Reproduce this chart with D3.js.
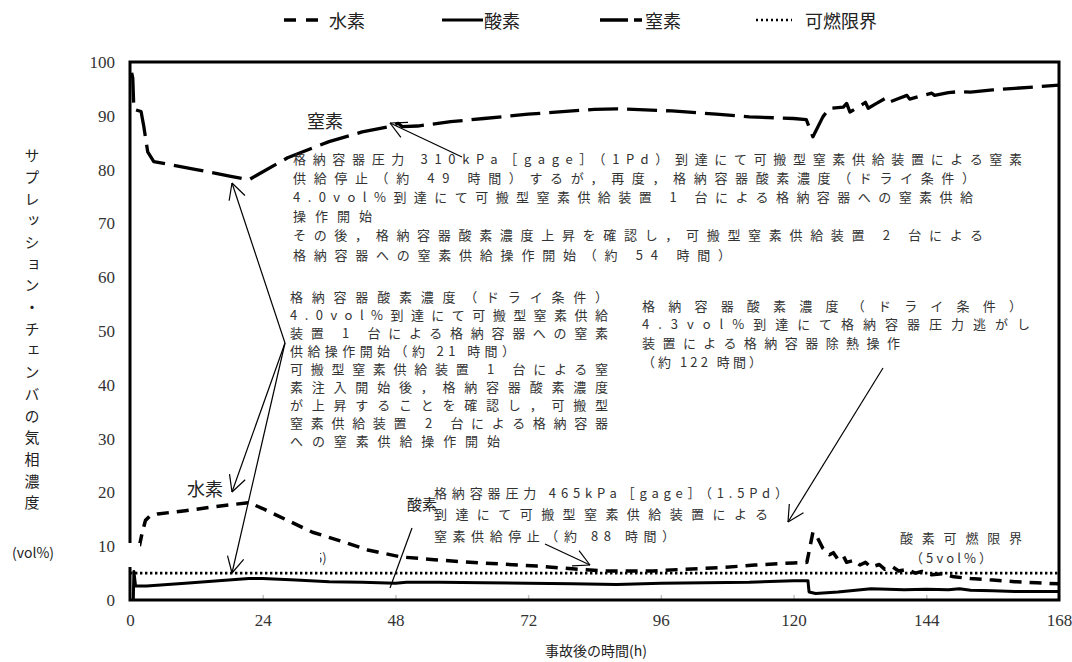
<!DOCTYPE html>
<html><head><meta charset="utf-8">
<script src="https://cdn.jsdelivr.net/npm/d3@7"></script>
<style>body{margin:0;background:#fff}svg{display:block}
.tick text{font-family:'Liberation Serif','DejaVu Serif',serif !important;font-size:17px;fill:#333}</style>
</head><body>
<svg id="c" width="1072" height="662"></svg>
<script>
// ---------- data ----------
const xTicks = [0, 24, 48, 72, 96, 120, 144, 168];
const yTicks = [0, 10, 20, 30, 40, 50, 60, 70, 80, 90, 100];
const seriesNames = ["水素", "酸素", "窒素", "可燃限界"];
const limitValue = 5;

const nitrogen = [[0.3,98],[0.5,97],[0.7,91.2],[2.0,90.8],[2.5,88],[3.2,83.3],[4.3,81.5],[12,80],[18,78.8],[21.5,78.1],
 [23,79],[28.5,82.2],[36,85.2],[42,87.0],[47,88.0],[48.5,88.6],[49.2,88.0],[52,88.1],[58,88.9],[64,89.5],
 [72,90.3],[84,91.2],[88,91.3],[98,90.9],[106,90.3],[112,89.8],[120,89.5],[122.3,89.3],[123.5,86.1],[125.3,89.8],
 [126.5,91.4],[129,91.6],[129.6,92.3],[130.2,90.7],[131.5,91.5],[133,92.5],[133.5,91.4],[135,92.3],[136.5,93.2],[137,92.4],
 [139,93.2],[140.5,93.8],[141,93.1],[143,93.7],[145,94.2],[145.5,93.8],[148,94.3],[150,94.5],[152,94.4],[156,94.8],
 [160,95.1],[164,95.4],[168,95.7]];

const hydrogen = [[1.7,10],[2.2,12.5],[2.8,14.8],[3.6,15.6],[5,16],[10,16.6],[15,17.3],[21.5,18.1],[24,17],[28.5,14.8],
 [33,12.6],[38,11],[43,9.3],[49,8.0],[55,7.5],[61.5,7.0],[67,6.7],[73.6,6.3],[80,5.8],[85.5,5.4],
 [94.6,5.4],[100,5.7],[106.7,6.0],[113,6.5],[120,6.9],[122.4,7.0],[122.8,9.0],[123.5,12.6],[124.2,11.8],[125.3,9.6],
 [126.5,8.4],[127.2,8.8],[128,7.6],[129,8.2],[129.6,7.0],[131,7.4],[132,6.5],[133,7.0],[134,6.1],[135.5,6.6],
 [136.5,5.7],[138,6.1],[139,5.4],[140.5,5.7],[142,5.0],[143.2,5.3],[145,4.7],[147,4.9],[149,4.3],[152,4.0],
 [156,3.7],[160,3.4],[164,3.2],[168,3.0]];

const oxygen = [[0.6,0],[0.7,5.3],[1.0,2.6],[3,2.6],[10,3.1],[16,3.6],[21.5,4.0],[24,4.0],[30,3.7],[36,3.4],
 [42,3.3],[48,3.1],[50,3.3],[56,3.3],[64,3.2],[72,3.1],[80,3.0],[88,2.9],[96,3.1],[104,3.2],
 [112,3.3],[120,3.6],[122.6,3.6],[122.8,1.5],[124,1.2],[128,1.5],[134,2.1],[140,1.9],[144,2.0],[148,1.9],
 [150,2.1],[152,1.8],[156,1.7],[160,1.6],[168,1.6]];

const note1 = ["格納容器圧力 310kPa［gage］（1Pd）到達にて可搬型窒素供給装置による窒素",
 "供給停止（約 49 時間）するが，再度，格納容器酸素濃度（ドライ条件）",
 "4.0vol%到達にて可搬型窒素供給装置 1 台による格納容器への窒素供給",
 "操作開始",
 "その後，格納容器酸素濃度上昇を確認し，可搬型窒素供給装置 2 台による",
 "格納容器への窒素供給操作開始（約 54 時間）"];
const note2 = ["格納容器酸素濃度（ドライ条件）",
 "4.0vol%到達にて可搬型窒素供給",
 "装置 1 台による格納容器への窒素",
 "供給操作開始（約 21 時間）",
 "可搬型窒素供給装置 1 台による窒",
 "素注入開始後，格納容器酸素濃度",
 "が上昇することを確認し，可搬型",
 "窒素供給装置 2 台による格納容器",
 "への窒素供給操作開始"];
const note3 = ["格納容器酸素濃度（ドライ条件）",
 "4.3vol%到達にて格納容器圧力逃がし",
 "装置による格納容器除熱操作",
 "（約 122 時間）"];
const note4 = ["格納容器圧力 465kPa［gage］（1.5Pd）",
 "到達にて可搬型窒素供給装置による",
 "窒素供給停止（約 88 時間）"];
const note5 = ["酸素可燃限界", "（5vol%）"];
const yTitle = "サプレッション・チェンバの気相濃度";
const yUnit = "(vol%)";
const xTitle = "事故後の時間(h)";

// ---------- drawing ----------
const CJK = "'Noto Sans CJK JP','Noto Sans',sans-serif";
const svg = d3.select("#c");
const x = d3.scaleLinear().domain([0,168]).range([130,1059]);
const y = d3.scaleLinear().domain([0,100]).range([600,62]);

// light inner ticks
const gt = svg.append("g").attr("transform","translate(0,600)")
  .call(d3.axisBottom(x).tickValues(xTicks).tickSize(-5).tickFormat(""));
gt.select(".domain").remove();
gt.selectAll("line").attr("stroke","#c4c4c4").attr("stroke-width",1.5);

// axis labels
const xa = svg.append("g").attr("transform","translate(0,600)")
  .call(d3.axisBottom(x).tickValues(xTicks).tickSize(0).tickPadding(14));
const ya = svg.append("g").attr("transform","translate(130,0)")
  .call(d3.axisLeft(y).tickValues(yTicks).tickSize(0).tickPadding(15));
[xa, ya].forEach(a => {
  a.select(".domain").remove();
  a.attr("font-family", null).attr("font-size", null);
});

// flammability limit
svg.append("line").attr("x1",x(0)).attr("x2",x(168)).attr("y1",y(limitValue)).attr("y2",y(limitValue))
  .attr("stroke","#000").attr("stroke-width",2.8).attr("stroke-dasharray","2.4,2.6");

const line = d3.line().x(d => x(d[0])).y(d => y(d[1]));
const drawSeries = (data, w, dash) => svg.append("path").datum(data).attr("d", line)
  .attr("fill","none").attr("stroke","#000").attr("stroke-width",w)
  .attr("stroke-dasharray",dash).attr("stroke-linejoin","round");
drawSeries(oxygen, 3, null);
drawSeries(hydrogen, 3.5, "12,8");
drawSeries(nitrogen, 3.3, "30,9");

// frame
svg.append("rect").attr("x",130).attr("y",62).attr("width",929).attr("height",538)
  .attr("fill","none").attr("stroke","#000").attr("stroke-width",3);
svg.append("rect").attr("x",126).attr("y",543).attr("width",14).attr("height",24).attr("fill","#fff");

// legend
const lg = svg.append("g");
const legendSym = [[284,318,3.5,"12,10"],[442,483,3,null],[600,642,3.3,"28,6"],[756,792,2.5,"2,3"]];
const legendTx = [329,484,645,805];
seriesNames.forEach((n,i) => {
  const s = legendSym[i];
  lg.append("line").attr("x1",s[0]).attr("x2",s[1]).attr("y1",20).attr("y2",20)
    .attr("stroke","#000").attr("stroke-width",s[2]).attr("stroke-dasharray",s[3]);
  lg.append("text").attr("x",legendTx[i]).attr("y",20).attr("dominant-baseline","central")
    .attr("font-family",CJK).attr("font-size",18).attr("fill","#222").text(n);
});

// titles
svg.append("text").attr("x",596).attr("y",650).attr("text-anchor","middle").attr("dominant-baseline","central")
  .attr("font-family",CJK).attr("font-size",14).attr("fill","#222").text(xTitle);
svg.append("text").attr("x",32).attr("y",148).attr("font-family",CJK).attr("font-size",15).attr("fill","#222")
  .style("writing-mode","vertical-rl").style("letter-spacing","6.7px").text(yTitle);
svg.append("text").attr("x",33).attr("y",552).attr("text-anchor","middle").attr("dominant-baseline","central")
  .attr("font-family",CJK).attr("font-size",14).attr("fill","#222").text(yUnit);

// series labels
[["窒素",307,120,18],["水素",187,488,18],["酸素",407,503,15]].forEach(l =>
  svg.append("text").attr("x",l[1]).attr("y",l[2]).attr("dominant-baseline","central")
    .attr("font-family",CJK).attr("font-size",l[3]).attr("fill","#222").text(l[0]));

// annotation blocks
function block(rows, x0, y0, dy, ends) {
  rows.forEach((t,i) => {
    svg.append("text").attr("x",x0).attr("y",y0 + i*dy).attr("dominant-baseline","central")
      .attr("font-family",CJK).attr("font-size",13).attr("fill","#333")
      .attr("textLength", ends[i] - x0).attr("lengthAdjust","spacing").text(t);
  });
}
block(note1, 293, 158, 19.2, [1022,975,973,372,983,731]);
block(note2, 290, 296, 18.1, [608,608,608,515,608,608,608,608,500]);
block(note3, 642, 305, 18.7, [1022,1030,900,762]);
block(note4, 434, 492, 21.5, [788,768,675]);
block([note5[0]], 900, 537, 20, [1022]);
block([note5[1]], 910, 557, 20, [992]);

// clipped fragment of a hidden label
svg.append("clipPath").attr("id","frag").append("rect").attr("x",320).attr("y",540).attr("width",20).attr("height",30);
svg.append("text").attr("x",315).attr("y",557).attr("dominant-baseline","central").attr("clip-path","url(#frag)")
  .attr("font-family",CJK).attr("font-size",13).attr("fill","#333").text("5)");

// arrows
function arrow(x1,y1,x2,y2,head=true){
  svg.append("line").attr("x1",x1).attr("y1",y1).attr("x2",x2).attr("y2",y2)
    .attr("stroke","#000").attr("stroke-width",1.2);
  if(!head) return;
  const a = Math.atan2(y1-y2, x1-x2), L = 18, h = 0.48;
  [a+h, a-h].forEach(b => svg.append("line").attr("x1",x2).attr("y1",y2)
    .attr("x2",x2+L*Math.cos(b)).attr("y2",y2+L*Math.sin(b)).attr("stroke","#000").attr("stroke-width",1.2));
}
arrow(462,157,390,123);
arrow(285,343,232,183);
arrow(285,343,232,492);
arrow(285,343,232,573);
arrow(883,368,788,522);
arrow(545,544,590,565);
arrow(412,528,390,588,false);
</script>
</body></html>
